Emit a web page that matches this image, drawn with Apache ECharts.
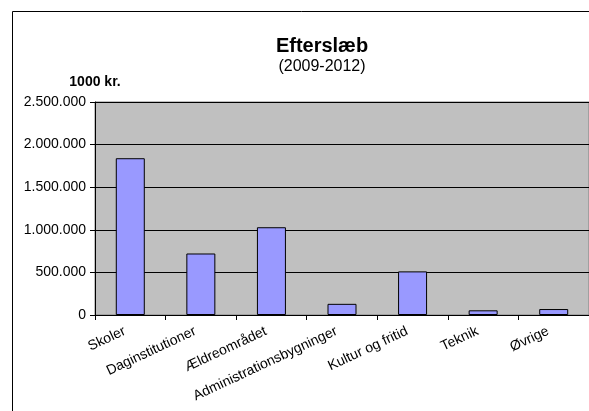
<!DOCTYPE html>
<html>
<head>
<meta charset="utf-8">
<script src="https://cdn.jsdelivr.net/npm/echarts@6/dist/echarts.min.js"></script>
<style>
  html, body { margin: 0; padding: 0; background: #fff; }
  #chart { width: 589px; height: 411px; }
</style>
</head>
<body>
<div id="chart"></div>
<script>
  // Efterslæb pr. område, 1000 kr.
  const categories = ['Skoler', 'Daginstitutioner', 'Ældreområdet', 'Administrationsbygninger', 'Kultur og fritid', 'Teknik', 'Øvrige']
  const values = [1840000, 722000, 1030000, 131000, 512000, 55000, 70000]

  // dansk tusindtalsseparator
  function fmt(v) {
    return String(v).replace(/\B(?=(\d{3})+(?!\d))/g, '.')
  }

  const chart = echarts.init(document.getElementById('chart'))
  chart.setOption({
    animation: false,
    textStyle: { fontFamily: 'Arial, "Liberation Sans", sans-serif' },
    title: {
      text: 'Efterslæb',
      subtext: '(2009-2012)',
      left: 317,
      top: 31,
      textAlign: 'center',
      itemGap: 3,
      textStyle: { fontSize: 20, fontWeight: 'bold', color: '#000' },
      subtextStyle: { fontSize: 16, color: '#000' }
    },
    graphic: [{
      type: 'rect',
      shape: { x: 12.5, y: 11.5, width: 700, height: 500 },
      style: { fill: 'none', stroke: '#000', lineWidth: 1 },
      silent: true
    }],
    grid: {
      left: 95, top: 102, right: 0, bottom: 96,
      show: true,
      backgroundColor: '#c0c0c0',
      borderColor: '#808080',
      borderWidth: 1
    },
    xAxis: {
      type: 'category',
      data: categories,
      axisLine: { lineStyle: { color: '#000', width: 1 } },
      axisTick: { show: true, length: 5, lineStyle: { color: '#000' } },
      axisLabel: { rotate: 25, margin: 13, padding: [0, 6, 0, 0], fontSize: 14, color: '#000', interval: 0 }
    },
    yAxis: {
      type: 'value',
      min: 0,
      max: 2500000,
      interval: 500000,
      name: '1000 kr.',
      nameLocation: 'end',
      nameGap: 13,
      nameTextStyle: { fontSize: 14, fontWeight: 'bold', color: '#000' },
      axisLine: { show: true, lineStyle: { color: '#000', width: 1 } },
      axisTick: { show: true, length: 5, lineStyle: { color: '#000' } },
      axisLabel: { fontSize: 14, color: '#000', margin: 9, formatter: fmt },
      splitLine: { lineStyle: { color: '#000', width: 1 } }
    },
    series: [{
      type: 'bar',
      data: values,
      barWidth: 29,
      itemStyle: { color: '#9999ff', borderColor: '#000', borderWidth: 1 }
    }]
  })
</script>
</body>
</html>
